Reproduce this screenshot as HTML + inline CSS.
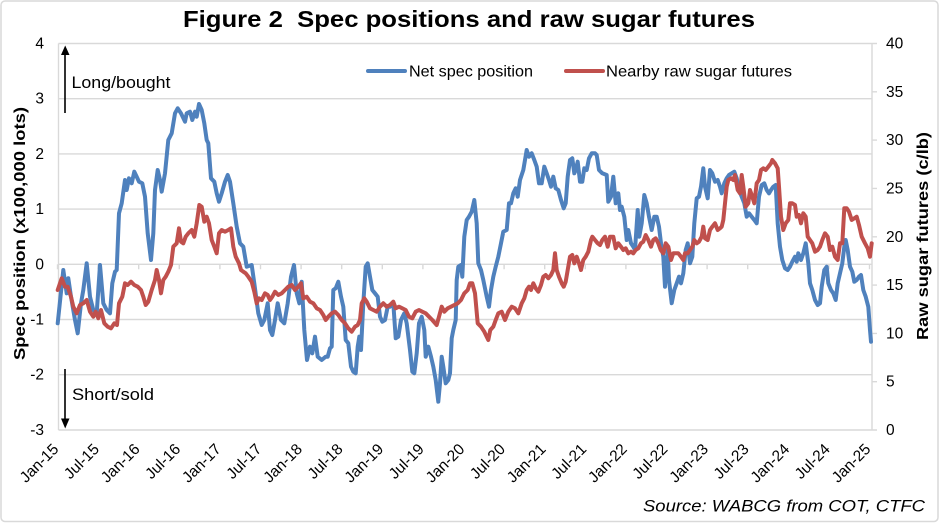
<!DOCTYPE html>
<html><head><meta charset="utf-8"><style>
html,body{margin:0;padding:0;background:#fff;}
svg{display:block;}
text{font-family:"Liberation Sans",Arial,sans-serif;fill:#000;}
</style></head><body>
<svg width="940" height="523" viewBox="0 0 940 523" xmlns="http://www.w3.org/2000/svg">
<rect x="1" y="1" width="937" height="520.5" rx="4" fill="#fff" stroke="#d9d9d9" stroke-width="1.5"/>
<text x="469" y="27" text-anchor="middle" font-size="23" font-weight="bold" textLength="572" lengthAdjust="spacingAndGlyphs">Figure 2&#160; Spec positions and raw sugar futures</text>
<g stroke="#d9d9d9" stroke-width="1.4" fill="none">
<line x1="58.5" y1="43.5" x2="872" y2="43.5"/>
<line x1="58.5" y1="98.7" x2="872" y2="98.7"/>
<line x1="58.5" y1="153.9" x2="872" y2="153.9"/>
<line x1="58.5" y1="209.1" x2="872" y2="209.1"/>
<line x1="58.5" y1="264.3" x2="872" y2="264.3"/>
<line x1="58.5" y1="319.5" x2="872" y2="319.5"/>
<line x1="58.5" y1="374.7" x2="872" y2="374.7"/>
<line x1="58.5" y1="430" x2="872" y2="430"/>
<line x1="58.5" y1="43.5" x2="58.5" y2="430"/>
<line x1="872" y1="43.5" x2="872" y2="430"/>
<path d="M872 43.5h5M872 91.8h5M872 140.1h5M872 188.4h5M872 236.8h5M872 285.1h5M872 333.4h5M872 381.7h5M872 430h5"/>
<path d="M57.5 264.3v5M98.1 264.3v5M138.7 264.3v5M179.3 264.3v5M219.9 264.3v5M260.5 264.3v5M301.1 264.3v5M341.7 264.3v5M382.3 264.3v5M422.9 264.3v5M463.5 264.3v5M504.1 264.3v5M544.7 264.3v5M585.3 264.3v5M625.9 264.3v5M666.5 264.3v5M707.1 264.3v5M747.7 264.3v5M788.3 264.3v5M828.9 264.3v5M869.5 264.3v5"/>
</g>
<g font-size="15.5" text-anchor="end">
<text x="44" y="48.5">4</text>
<text x="44" y="103.7">3</text>
<text x="44" y="158.9">2</text>
<text x="44" y="214.1">1</text>
<text x="44" y="269.3">0</text>
<text x="44" y="324.5">-1</text>
<text x="44" y="379.7">-2</text>
<text x="44" y="435">-3</text>
</g>
<g font-size="15.5" text-anchor="start">
<text x="886" y="48.5">40</text>
<text x="886" y="96.8">35</text>
<text x="886" y="145.1">30</text>
<text x="886" y="193.4">25</text>
<text x="886" y="241.8">20</text>
<text x="886" y="290.1">15</text>
<text x="886" y="338.4">10</text>
<text x="886" y="386.7">5</text>
<text x="886" y="435">0</text>
</g>
<g font-size="15.5" text-anchor="end">
<text transform="translate(59.5,450) rotate(-45)">Jan-15</text>
<text transform="translate(100.1,450) rotate(-45)">Jul-15</text>
<text transform="translate(140.7,450) rotate(-45)">Jan-16</text>
<text transform="translate(181.3,450) rotate(-45)">Jul-16</text>
<text transform="translate(221.9,450) rotate(-45)">Jan-17</text>
<text transform="translate(262.5,450) rotate(-45)">Jul-17</text>
<text transform="translate(303.1,450) rotate(-45)">Jan-18</text>
<text transform="translate(343.7,450) rotate(-45)">Jul-18</text>
<text transform="translate(384.3,450) rotate(-45)">Jan-19</text>
<text transform="translate(424.9,450) rotate(-45)">Jul-19</text>
<text transform="translate(465.5,450) rotate(-45)">Jan-20</text>
<text transform="translate(506.1,450) rotate(-45)">Jul-20</text>
<text transform="translate(546.7,450) rotate(-45)">Jan-21</text>
<text transform="translate(587.3,450) rotate(-45)">Jul-21</text>
<text transform="translate(627.9,450) rotate(-45)">Jan-22</text>
<text transform="translate(668.5,450) rotate(-45)">Jul-22</text>
<text transform="translate(709.1,450) rotate(-45)">Jan-23</text>
<text transform="translate(749.7,450) rotate(-45)">Jul-23</text>
<text transform="translate(790.3,450) rotate(-45)">Jan-24</text>
<text transform="translate(830.9,450) rotate(-45)">Jul-24</text>
<text transform="translate(871.5,450) rotate(-45)">Jan-25</text>
</g>
<text transform="translate(25,233.5) rotate(-90)" text-anchor="middle" font-size="16" font-weight="bold" textLength="253" lengthAdjust="spacingAndGlyphs">Spec position (x100,000 lots)</text>
<text transform="translate(928,236) rotate(-90)" text-anchor="middle" font-size="16" font-weight="bold" textLength="208" lengthAdjust="spacingAndGlyphs">Raw sugar futures (c/lb)</text>
<g stroke="#000" stroke-width="1.6">
<line x1="65" y1="113" x2="65" y2="53"/>
<line x1="65" y1="369" x2="65" y2="420"/>
</g>
<polygon points="61,55 69.5,55 65.2,45.5" fill="#000"/>
<polygon points="61,418.5 69.5,418.5 65.2,428.5" fill="#000"/>
<text x="71.5" y="88" font-size="17" textLength="99" lengthAdjust="spacingAndGlyphs">Long/bought</text>
<text x="72" y="400" font-size="17" textLength="82" lengthAdjust="spacingAndGlyphs">Short/sold</text>
<line x1="368" y1="71" x2="405" y2="71" stroke="#4f81bd" stroke-width="4" stroke-linecap="round"/>
<text x="409" y="76.5" font-size="16" textLength="124" lengthAdjust="spacingAndGlyphs">Net spec position</text>
<line x1="566" y1="71" x2="603" y2="71" stroke="#c0504d" stroke-width="4" stroke-linecap="round"/>
<text x="606" y="76.5" font-size="16" textLength="186" lengthAdjust="spacingAndGlyphs">Nearby raw sugar futures</text>
<polyline fill="none" stroke="#4f81bd" stroke-width="4" stroke-linejoin="round" stroke-linecap="round" points="57.7,323.3 63.3,270 66.7,293.3 68.3,278.3 71,296.7 75,320 77.7,333.3 81,303.3 83.3,290 86.7,263.3 90,296.7 93.3,310 96.7,313.3 100,265 103.3,303.3 106.7,310 110,313.3 112.3,283.3 115,271.7 116.7,270 119,213.3 121.7,203.3 125,180 126.7,190 129,178.3 131.7,183.3 134.3,171.7 136.7,176.7 139,181.7 142.3,183.3 145,196.7 147.7,233.3 151,260 153.3,233.3 155,190 157.7,170 160,180 161.7,191.7 165,173.3 168.3,140 171.7,133.3 175,113.3 177.7,108.3 181,113.3 185,121.7 186.7,113.3 190,111.7 192.3,120 195,111.7 196.7,116.7 199,104 201.7,110 204.3,123.3 206.7,140 208.3,143.3 211,178.3 214.3,181.7 216.7,193.3 219,201.7 221.7,193.3 225,181.7 227.7,175 230,181.7 233.3,203.3 236.7,226.7 240,243.3 243.3,246.7 246.7,266.7 251.7,265 254.3,283.3 258.3,313.3 261.7,325 264.3,320 267.7,303.3 270,330 272.3,335 275,320 277.7,303.3 281,320 284.3,323.3 287.7,303.3 291,276.7 294,265 296.7,293.3 299.3,303.3 301.7,281.7 304.3,330 307,360 310,346.7 312.3,353.3 315,336.7 317.7,356.7 321.7,360 325.7,356.7 327.7,356.7 330,348.3 331.7,346.7 333.3,290 335.7,288.3 338.3,281.7 341,296.7 343.3,306.7 345.7,340 348.3,343.3 351,366.7 353.3,371.7 355.7,373.3 357.7,346.7 359.3,336.7 361,350 363.3,303.3 365.7,266.7 367.7,263.3 370,276.7 372.3,290 375,293.3 377.7,296.7 380,316.7 382.3,321.7 385,320 387.7,306.7 390,306.7 393.3,303.3 395.7,338.3 398.3,336.7 401,320 404.3,313.3 406.7,323.3 410,350 412.3,371.7 414.3,373.3 416.7,353.3 419,323.3 421.7,316.7 424.3,330 425.7,356.7 428.3,346.7 431,356.7 433.3,366.7 435.7,380 438.3,401.7 440,383.3 441.7,356.7 443.3,366.7 445.7,383.3 448.3,380 450,373.3 451.7,338.3 453.3,330 455.7,320 456.7,280 458.3,266.7 461,265 462.3,276.7 464.3,236.7 466.7,220 469,216.7 471.7,211.7 474.3,200 476.7,223.3 478.3,263.3 481,270 483.3,280 486.7,296.7 489,306.7 491,290 493.3,276.7 495.7,266.7 498.3,256.7 501,243.3 503.3,231.7 506.7,230 509,203.3 511,203.3 513.3,193.3 515.7,188.3 517.7,196.7 520,180 523.3,170 526.7,150 529,156.7 531.7,153.3 534.3,160 536.7,166.7 539,183.3 541.7,183.3 544.3,166.7 546.7,173.3 549,180 551,186.7 553.3,176.7 555.7,188.3 558.3,190 561,200 563.7,208.3 565.7,203.3 567.7,176.7 570,160 572.3,158.3 574.3,173.3 575.7,170 577.7,161.7 580,181.7 582.3,181.7 584.3,168.3 586.7,170 589,158.3 591.7,153.3 595,153.3 596.7,155 599,170 602.3,173.3 606.7,175 608.3,201.7 611,196.7 613.3,176.7 615.7,203.3 618.3,193.3 620,210 621.7,206.7 624.3,216.7 626.7,240 628.3,230 631,243.3 633.3,246.7 635,250 637.7,210 639.3,236.7 641.7,223.3 644.3,195 646.7,203.3 649,216.7 651.7,230 654.3,216.7 656.7,216.7 659,226.7 661,243.3 663.3,256.7 665,286.7 667.7,250 669,280 671.7,303.3 674.3,290 676.7,283.3 679,276.7 681,283.3 683.3,273.3 685.7,250 687.7,243.3 690,263.3 692.3,256.7 694.3,223.3 696.7,198.3 699,196.7 701,186.7 703.3,168.3 705,186.7 707.7,198.3 710,170 712.3,173.3 715,181.7 717.7,180 720,186.7 721.7,193.3 724.3,183.3 726.7,178.3 729,175 731.7,173.3 734.3,171.7 736.7,178.3 739,190 741.7,196.7 744.3,203.3 746.7,216.7 749,213.3 751.7,216.7 754.3,220 756.7,223.3 759,196.7 761.7,185 764.3,183.3 766.7,190 769,193.3 771,190 773.3,186.7 775.7,185 777.7,223.3 780,246.7 782.3,260 785,268.3 787.7,270 790,266.7 792.3,261.7 795,256.7 796.7,261.7 798.3,253.3 801,260 803.3,253.3 805.7,243.3 808.3,263.3 810,283.3 812.3,290 815,300 817.7,305 820,303.3 821.7,286.7 824.3,270 826.7,266.7 828.3,283.3 831,290 833.3,293.3 835.7,300 837.7,283.3 840,273.3 842.3,263.3 844.3,246.7 845.7,240 847.7,250 850,266.7 852.3,271.7 854.3,281.7 856.7,280 859,276.7 861,275 863.3,290 865.7,296.7 868.3,306.7 870,330 871,341.7"/>
<polyline fill="none" stroke="#c0504d" stroke-width="4" stroke-linejoin="round" stroke-linecap="round" points="57.7,290 61.7,278.3 65,286.7 67.7,286.7 71,296.7 73.3,306.7 76.7,313.3 80,305 83.3,303.3 86.7,300 90,311.7 93.3,316.7 95.7,311.7 98.3,318.3 101,310 104.3,323.3 107.7,326.7 111,328.3 114.3,323.3 117,325 119,303.3 122.3,296.7 125,283.3 127.7,285 131,281.7 134.3,285 137.7,286.7 141,290 143.3,296.7 145.7,305 148.3,301.7 151.7,290 155,280 156.7,270 159,280 161,293.3 163.3,280 165.7,276.7 168.3,271.7 171,265 173.3,246.7 176.7,243.3 179,228.3 181,241.7 183.3,243.3 185.7,236.7 188.3,233.3 191.7,230 194.3,236.7 196.7,223.3 199.3,205 201.7,206.7 204.3,221.7 206.7,216.7 209,223.3 211.7,240 214.3,246.7 216.7,253.3 219,233.3 221.7,230 225,231.7 228.3,230 231,228.3 233.3,246.7 235.7,256.7 239,263.3 241,270 243.3,271.7 245.7,273.3 248.3,276.7 251.7,281.7 254.3,291.7 256.7,303.3 259,298.3 261.7,300 265,293.3 267.7,295 270,300 272.3,296.7 275,291.7 278.3,295 281.7,293.3 285,290 288.3,286.7 291.7,285 295,290 298.3,286.7 301,283.3 303.3,298.3 306.7,296.7 310,301.7 313.3,303.3 316.7,308.3 320,310 323.3,315 325.7,320 328.3,316.7 331.7,313.3 335,311.7 338.3,315 341.7,320 345,323.3 348.3,328.3 351.7,331.7 355,326.7 357.7,325 360,320 361.7,303.3 364.3,298.3 366.7,301.7 370,308.3 373.3,310 376.7,311.7 380,306.7 383.3,303.3 386.7,306.7 390,305 393.3,301.7 395.7,308.3 399,306.7 402.3,308.3 405.7,310 409,316.7 412.3,318.3 415.7,311.7 419,310 422.3,311.7 425.7,313.3 429,316.7 432.3,320 436.7,325 439,316.7 441.7,306.7 444.3,311.7 447.7,308.3 451,306.7 454.3,305 457.7,303.3 461,300 464.3,293.3 467.7,290 470,283.3 472.3,283.3 475,293.3 477.7,323.3 481,326.7 484.3,331.7 486.7,336.7 488.3,340 490.3,330 493.3,326.7 495.7,320 498.3,313.3 501.7,311.7 505,320 508.3,311.7 511.7,306.7 515,308.3 518.3,313.3 521.7,303.3 524.3,298.3 526.7,290 529,286.7 531,290 533.3,283.3 535.7,288.3 538.3,291.7 541,285 543.3,276.7 545.7,275 548.3,278.3 551,275 553.3,270 555,253.3 556.7,270 559,276.7 561.7,283.3 563.7,286.7 565.7,281.7 567.7,270 570,256.7 572.3,255 574.3,263.3 576.7,256.7 579,263.3 581,270 583.3,260 585.7,256.7 588.3,251.7 591,240 592.3,236.7 595,240 597.7,243.3 600,245 602.3,240 605,236.7 607.7,246.7 610,236.7 613.3,236.7 615.7,248.3 618.3,243.3 621,246.7 623.3,250 625.7,248.3 628.3,253.3 631,251.7 633.3,253.3 635.7,250 638.3,248.3 641,243.3 643.3,241.7 645.7,235 648.3,240 651,246.7 653.3,240 655.7,238.3 658.3,243.3 660.7,250 663.3,253.3 665.7,243.3 668.3,246.7 671,260 673.3,253.3 675.7,253.3 678.3,253.3 681,256.7 683.3,260 685,253.3 687.7,253.3 690,250 692.3,246.7 694.3,240 696.7,243.3 699,241.7 701.7,236.7 703.3,226.7 705,238.3 707.7,240 710,230 712.3,226.7 715,223.3 717.7,230 720,228.3 721.7,226.7 723.3,220 725,203.3 726.7,186.7 728.3,180 731,178.3 733.3,180 735,175 737.7,190 740,193.3 741.7,175 743.3,186.7 745.7,206.7 748.3,203.3 750,190 752.3,196.7 754.3,203.3 756.7,183.3 759,180 761,170 763.3,168.3 765.7,170 768.3,166.7 771,163.3 772.3,160 775,163.3 777.7,168.3 779,186.7 781,216.7 783.3,230 785.7,223.3 788.3,220 790,203.3 792.3,203.3 795,205 796.7,216.7 799,215 801,223.3 803.3,213.3 805.7,216.7 807.7,236.7 810,240 812.3,243.3 815,251.7 817.7,250 820,246.7 822.3,240 825,233.3 827.7,236.7 830,250 832.3,246.7 835,256.7 837.7,260 840,243.3 842.3,243.3 844.3,208.3 846.7,208.3 849,211.7 851.7,220 854.3,218.3 856.7,216.7 859,225 861.7,236.7 865,243.3 867.7,248.3 870,256.7 871.7,243.3"/>
<text x="643" y="511.5" font-size="17" font-style="italic" textLength="282" lengthAdjust="spacingAndGlyphs">Source: WABCG from COT, CTFC</text>
</svg>
</body></html>
